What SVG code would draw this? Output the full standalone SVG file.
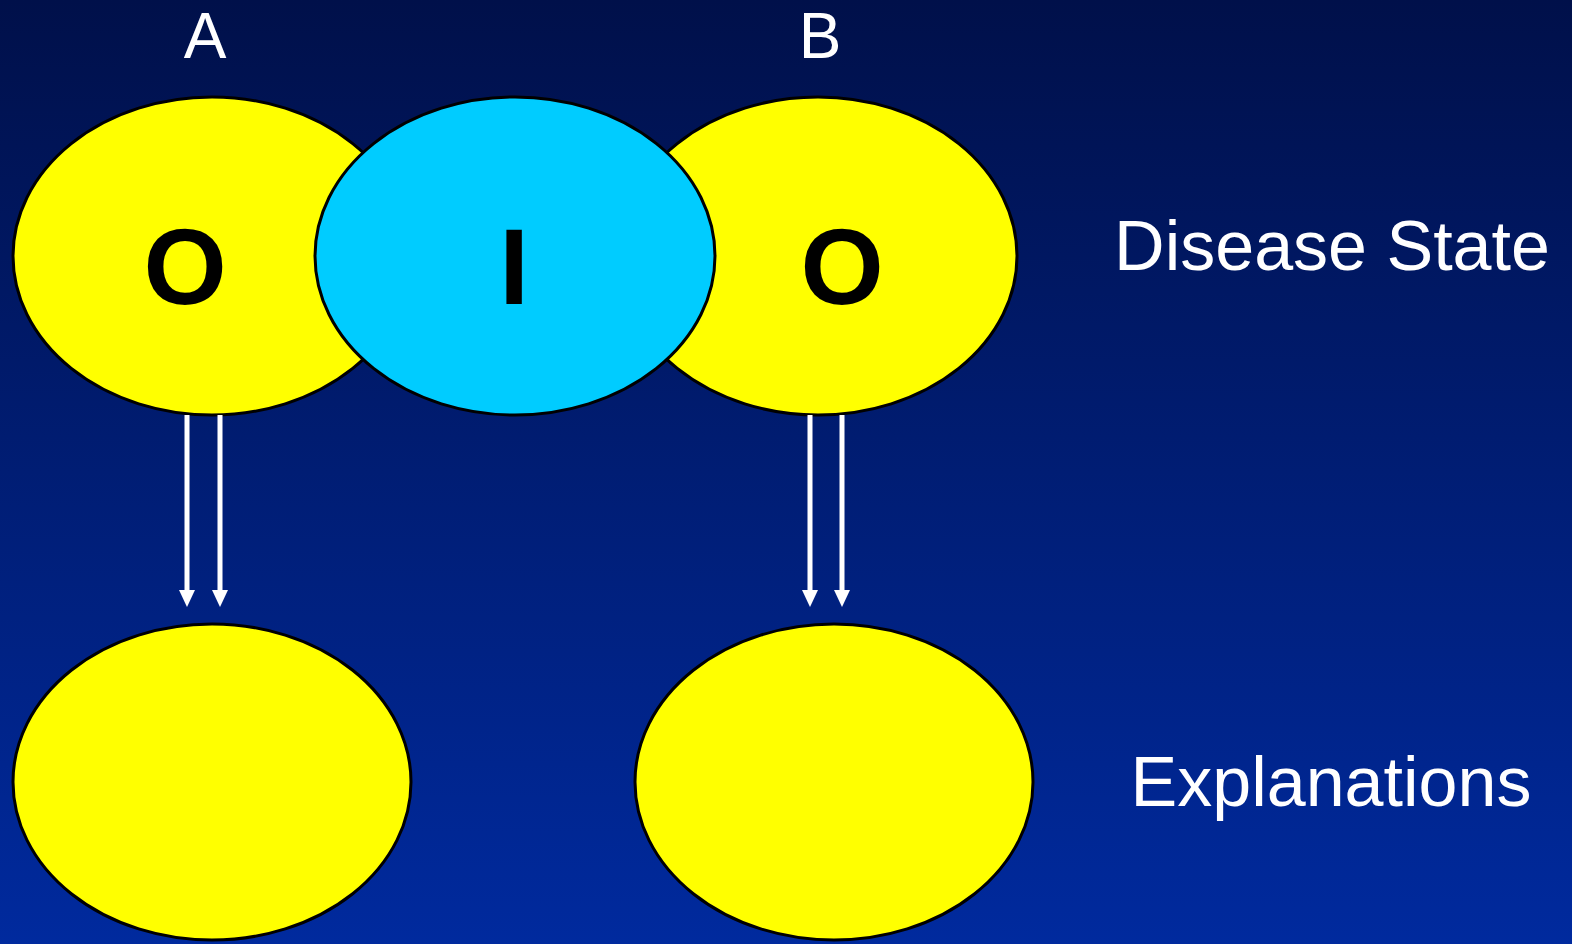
<svg xmlns="http://www.w3.org/2000/svg" width="1572" height="944" viewBox="0 0 1572 944">
<defs>
<linearGradient id="bg" x1="0" y1="0" x2="0" y2="1">
<stop offset="0" stop-color="#00104a"/>
<stop offset="1" stop-color="#002a9e"/>
</linearGradient>
<style>
.y{fill:#ffff00;stroke:#000;stroke-width:3}
.c{fill:#00ccff;stroke:#000;stroke-width:3}
.big{font-family:"Liberation Sans",Arial,sans-serif;font-weight:bold;font-size:107px;fill:#000;text-anchor:middle}
.lbl{font-family:"Liberation Sans",Arial,sans-serif;font-size:70px;fill:#fff;text-anchor:middle}
.top{font-family:"Liberation Sans",Arial,sans-serif;font-size:64px;fill:#fff;text-anchor:middle}
.arr{stroke:#fff;stroke-width:5;fill:none}
.head{fill:#fff}
</style>
</defs>
<rect width="1572" height="944" fill="url(#bg)"/>
<g id="nodeA">
<ellipse class="y" cx="212" cy="256" rx="199" ry="159"/>
<text class="big" x="185" y="304">O</text>
</g>
<g id="nodeB">
<ellipse class="y" cx="818" cy="256" rx="199" ry="159"/>
<text class="big" x="842" y="304">O</text>
</g>
<g id="nodeI">
<ellipse class="c" cx="515" cy="256" rx="200" ry="159"/>
<text class="big" x="514" y="304">I</text>
</g>
<g id="explA">
<ellipse class="y" cx="212" cy="782" rx="199" ry="158"/>
</g>
<g id="explB">
<ellipse class="y" cx="834" cy="782" rx="199" ry="158"/>
</g>
<g id="labels">
<text class="top" x="205" y="58">A</text>
<text class="top" x="820" y="58">B</text>
<text class="lbl" x="1332" y="270">Disease State</text>
<text class="lbl" x="1331" y="806">Explanations</text>
</g>
<g id="connectors">
<line class="arr" x1="187" y1="415" x2="187" y2="592"/>
<path class="head" d="M179,590 L195,590 L187,607 Z"/>
<line class="arr" x1="220" y1="415" x2="220" y2="592"/>
<path class="head" d="M212,590 L228,590 L220,607 Z"/>
<line class="arr" x1="810" y1="415" x2="810" y2="592"/>
<path class="head" d="M802,590 L818,590 L810,607 Z"/>
<line class="arr" x1="842" y1="415" x2="842" y2="592"/>
<path class="head" d="M834,590 L850,590 L842,607 Z"/>
</g>
</svg>
